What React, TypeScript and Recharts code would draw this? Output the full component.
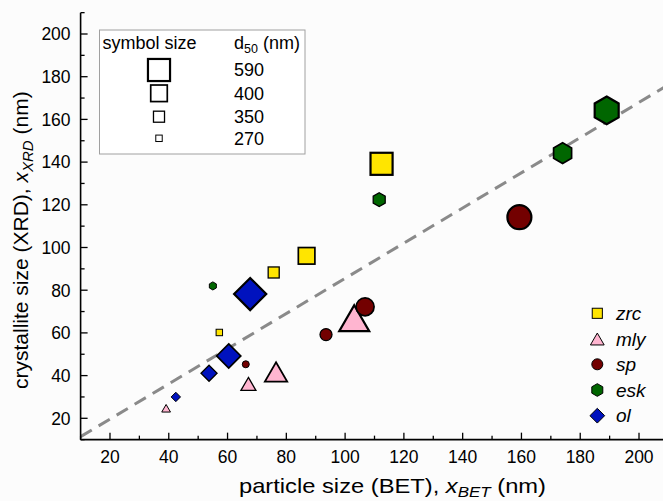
import { ScatterChart, Scatter, XAxis, YAxis, ReferenceLine } from "recharts";

const FONT = '"Liberation Sans", Arial, sans-serif';

// axis ticks (minor every 10, labelled every 20)
const xTicks = [10, 20, 30, 40, 50, 60, 70, 80, 90, 100, 110, 120, 130, 140, 150, 160, 170, 180, 190, 200, 210];
const yTicks = [10, 20, 30, 40, 50, 60, 70, 80, 90, 100, 110, 120, 130, 140, 150, 160, 170, 180, 190, 200, 210];

// symbol-size legend (d50 in nm)
const d50Classes = [590, 400, 350, 270];

// series: particle size (BET), crystallite size (XRD), d50 class
const zrcBET = [57.2, 75.7, 86.9, 112.4];
const zrcXRD = [60.2, 88.3, 96.1, 139.2];
const zrcD50 = [270, 350, 400, 590];

const mlyBET = [39.1, 67.1, 76.5, 103.1];
const mlyXRD = [24.7, 36.1, 41.7, 66.9];
const mlyD50 = [270, 350, 400, 590];

const spBET = [66.2, 93.5, 106.8, 159.3];
const spXRD = [45.3, 59.2, 72.2, 114.2];
const spD50 = [270, 350, 400, 590];

const eskBET = [55.0, 111.6, 174.0, 189.0];
const eskXRD = [82.0, 122.4, 144.2, 164.2];
const eskD50 = [270, 350, 400, 590];

const olBET = [42.4, 53.7, 60.4, 67.7];
const olXRD = [30.0, 41.1, 49.2, 78.2];
const olD50 = [270, 350, 400, 590];

// dashed guide line end points
const guideLine = [
  { x: 10, y: 11.4 },
  { x: 210, y: 176.2 },
];

const symbolPx: Record<number, number> = { 270: 7, 350: 12, 400: 18, 590: 24 };
const edgePx: Record<number, number> = { 270: 1, 350: 1.3, 400: 1.7, 590: 2.2 };

type Pt = { x: number; y: number; d50: number };
const toPoints = (xs: number[], ys: number[], ds: number[]): Pt[] =>
  xs.map((x, i) => ({ x, y: ys[i], d50: ds[i] }));

type Kind = "square" | "triangle" | "circle" | "hexagon" | "diamond";

function Marker({ kind, cx, cy, s, fill, stroke, sw }: { kind: Kind; cx: number; cy: number; s: number; fill: string; stroke: string; sw: number }) {
  if (kind === "square") {
    const a = s * 0.92;
    return <rect x={cx - a / 2} y={cy - a / 2} width={a} height={a} fill={fill} stroke={stroke} strokeWidth={sw} />;
  }
  if (kind === "circle") {
    return <circle cx={cx} cy={cy} r={s / 2} fill={fill} stroke={stroke} strokeWidth={sw} />;
  }
  if (kind === "triangle") {
    const w = s * 1.25;
    const h = w * 0.866;
    const pts = `${cx},${cy - h / 2} ${cx + w / 2},${cy + h / 2} ${cx - w / 2},${cy + h / 2}`;
    return <polygon points={pts} fill={fill} stroke={stroke} strokeWidth={sw} strokeLinejoin="miter" />;
  }
  if (kind === "hexagon") {
    const r = s / Math.sqrt(3);
    const pts = [0, 1, 2, 3, 4, 5]
      .map((k) => {
        const a = (Math.PI / 3) * k - Math.PI / 2;
        return `${cx + r * Math.cos(a)},${cy + r * Math.sin(a)}`;
      })
      .join(" ");
    return <polygon points={pts} fill={fill} stroke={stroke} strokeWidth={sw} />;
  }
  const d = s * 0.67;
  const pts = `${cx},${cy - d} ${cx + d},${cy} ${cx},${cy + d} ${cx - d},${cy}`;
  return <polygon points={pts} fill={fill} stroke={stroke} strokeWidth={sw} />;
}

const series = [
  { name: "zrc", kind: "square" as Kind, color: "#FFE500", data: toPoints(zrcBET, zrcXRD, zrcD50) },
  { name: "mly", kind: "triangle" as Kind, color: "#FFB5D0", data: toPoints(mlyBET, mlyXRD, mlyD50) },
  { name: "sp", kind: "circle" as Kind, color: "#730000", data: toPoints(spBET, spXRD, spD50) },
  { name: "esk", kind: "hexagon" as Kind, color: "#006600", data: toPoints(eskBET, eskXRD, eskD50) },
  { name: "ol", kind: "diamond" as Kind, color: "#0012BE", data: toPoints(olBET, olXRD, olD50) },
];

const tickStroke = { stroke: "#000", strokeWidth: 1.3 };

const bottomTick = (p: any) => {
  const v = p.payload.value;
  const major = v % 20 === 0;
  return (
    <g>
      <line x1={p.x} x2={p.x} y1={p.y} y2={p.y - (major ? 7 : 4)} {...tickStroke} />
      {major && (
        <text x={p.x} y={p.y + 23} textAnchor="middle" fontSize={17.5} fontFamily={FONT} fill="#000">
          {v}
        </text>
      )}
    </g>
  );
};

const topTick = (p: any) => {
  const major = p.payload.value % 20 === 0;
  return <line x1={p.x} x2={p.x} y1={p.y} y2={p.y + (major ? 7 : 4)} {...tickStroke} />;
};

const leftTick = (p: any) => {
  const v = p.payload.value;
  const major = v % 20 === 0;
  return (
    <g>
      <line x1={p.x} x2={p.x + (major ? 7 : 4)} y1={p.y} y2={p.y} {...tickStroke} />
      {major && (
        <text x={p.x - 10} y={p.y + 6.3} textAnchor="end" fontSize={17.5} fontFamily={FONT} fill="#000">
          {v}
        </text>
      )}
    </g>
  );
};

const rightTick = (p: any) => {
  const major = p.payload.value % 20 === 0;
  return <line x1={p.x} x2={p.x - (major ? 7 : 4)} y1={p.y} y2={p.y} {...tickStroke} />;
};

const xTitle = (p: any) => {
  const vb = p.viewBox;
  const cx = vb.x + vb.width / 2 + 18;
  const cy = vb.y + 53.5;
  return (
    <text transform={`translate(${cx},${cy}) scale(1.13,1)`} textAnchor="middle" fontSize={21} fontFamily={FONT} fill="#000">
      {"particle size (BET), "}
      <tspan fontStyle="italic">x</tspan>
      <tspan fontStyle="italic" fontSize={15} dy={4}>BET</tspan>
      <tspan dy={-4}>{" (nm)"}</tspan>
    </text>
  );
};

const yTitle = (p: any) => {
  const vb = p.viewBox;
  const cx = 28;
  const cy = vb.y + vb.height / 2 + 14;
  return (
    <text transform={`translate(${cx},${cy}) rotate(-90)`} textAnchor="middle" fontSize={21} fontFamily={FONT} fill="#000">
      {"crystallite size (XRD), "}
      <tspan fontStyle="italic">x</tspan>
      <tspan fontStyle="italic" fontSize={15} dy={5}>XRD</tspan>
      <tspan dy={-5}>{" (nm)"}</tspan>
    </text>
  );
};

function SizeLegend() {
  const rowY = [70, 93.3, 116.7, 138.3];
  return (
    <g fontFamily={FONT} fontSize={18} fill="#000">
      <rect x={99.5} y={30} width={205.5} height={124} fill="#fff" stroke="#a0a0a0" strokeWidth={1} />
      <text x={102.5} y={48.5}>symbol size</text>
      <text x={234} y={48.5}>
        d<tspan fontSize={12.5} dy={4}>50</tspan>
        <tspan dy={-4}>{" (nm)"}</tspan>
      </text>
      {d50Classes.map((d, i) => (
        <g key={d}>
          <Marker kind="square" cx={159} cy={rowY[i]} s={symbolPx[d]} fill="#fff" stroke="#000" sw={edgePx[d]} />
          <text x={234} y={rowY[i] + 6.3}>{d}</text>
        </g>
      ))}
    </g>
  );
}

function SeriesLegend() {
  const rowY = [313.3, 339, 364.3, 390, 415.7];
  return (
    <g fontFamily={FONT} fontSize={19} fill="#000">
      {series.map((s, i) => (
        <g key={s.name}>
          <Marker kind={s.kind} cx={597.3} cy={rowY[i]} s={11} fill={s.color} stroke="#000" sw={1} />
          <text x={616} y={rowY[i] + 6.5} fontStyle="italic">{s.name}</text>
        </g>
      ))}
    </g>
  );
}

export default function App() {
  return (
    <div style={{ position: "absolute", left: 0, top: 0, width: 663, height: 501, overflow: "hidden", background: "#fcfcfc" }}>
      <ScatterChart width={685} height={501} margin={{ top: 12.65, right: 16.6, bottom: 0, left: 0 }}>
        <XAxis
          xAxisId="b"
          type="number"
          dataKey="x"
          domain={[10, 210]}
          ticks={xTicks}
          interval={0}
          height={61.35}
          tickSize={0}
          tickMargin={0}
          tickLine={false}
          tick={bottomTick}
          axisLine={{ stroke: "#000", strokeWidth: 1.6 }}
          allowDataOverflow
          label={{ content: xTitle }}
        />
        <XAxis
          xAxisId="t"
          orientation="top"
          type="number"
          domain={[10, 210]}
          ticks={xTicks}
          interval={0}
          height={0}
          tickSize={0}
          tickMargin={0}
          tickLine={false}
          tick={topTick}
          axisLine={{ stroke: "#000", strokeWidth: 1.6 }}
          allowDataOverflow
        />
        <YAxis
          yAxisId="l"
          type="number"
          dataKey="y"
          domain={[10, 210]}
          ticks={yTicks}
          interval={0}
          width={80.6}
          tickSize={0}
          tickMargin={0}
          tickLine={false}
          tick={leftTick}
          axisLine={{ stroke: "#000", strokeWidth: 1.6 }}
          allowDataOverflow
          label={{ content: yTitle }}
        />
        <YAxis
          yAxisId="r"
          orientation="right"
          type="number"
          domain={[10, 210]}
          ticks={yTicks}
          interval={0}
          width={0}
          tickSize={0}
          tickMargin={0}
          tickLine={false}
          tick={rightTick}
          axisLine={{ stroke: "#000", strokeWidth: 1.6 }}
          allowDataOverflow
        />
        <ReferenceLine
          xAxisId="b"
          yAxisId="l"
          segment={guideLine}
          stroke="#8a8a8a"
          strokeWidth={3}
          strokeDasharray="13 8"
          ifOverflow="visible"
        />
        {series.map((s) => (
          <Scatter
            key={s.name}
            name={s.name}
            xAxisId="b"
            yAxisId="l"
            data={s.data}
            isAnimationActive={false}
            shape={(p: any) => (
              <Marker
                kind={s.kind}
                cx={p.cx}
                cy={p.cy}
                s={symbolPx[p.payload.d50]}
                fill={s.color}
                stroke="#000"
                sw={edgePx[p.payload.d50]}
              />
            )}
          />
        ))}
      </ScatterChart>
      <svg width={663} height={501} style={{ position: "absolute", left: 0, top: 0, pointerEvents: "none" }}>
        <SizeLegend />
        <SeriesLegend />
      </svg>
    </div>
  );
}
